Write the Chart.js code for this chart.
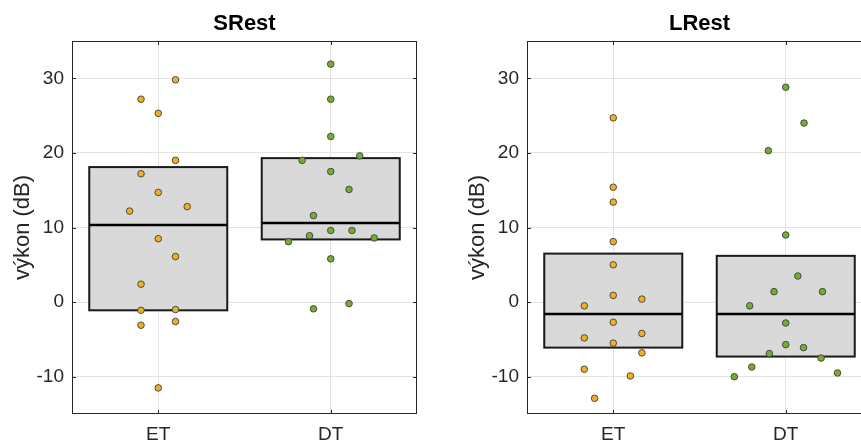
<!DOCTYPE html>
<html lang="cs">
<head>
  <meta charset="UTF-8">
  <title>SRest / LRest</title>
  <script src="https://cdn.jsdelivr.net/npm/chart.js"></script>
  <style>
    html, body {
      margin: 0;
      padding: 0;
      background: #fff;
      overflow: hidden;
      width: 861px;
      height: 443px;
    }
    .panel {
      position: absolute;
      top: 0;
      width: 430px;
      height: 443px;
    }
  </style>
</head>
<body>
  <div class="panel" style="left:0px"><canvas id="sRest" width="430" height="443"></canvas></div>
  <div class="panel" style="left:455px"><canvas id="lRest" width="430" height="443"></canvas></div>

  <script>
    const categories = ["ET", "DT"];
    const yTicks = [-10, 0, 10, 20, 30];

    // SRest - ET
    const sEtVals   = [29.8, 27.2, 25.3, 19.0, 17.2, 14.7, 12.2, 12.8, 8.5, 6.1, 2.4, -1.1, -1.0, -2.6, -3.1, -11.5];
    const sEtJitter = [0.10, -0.10, 0, 0.10, -0.10, 0, -0.166, 0.168, 0, 0.10, -0.10, -0.10, 0.10, 0.10, -0.10, 0];
    // SRest - DT
    const sDtVals   = [31.9, 27.2, 22.2, 19.6, 19.0, 17.5, 15.1, 11.6, 8.9, 9.6, 9.6, 8.6, 8.1, 5.8, -0.2, -0.9];
    const sDtJitter = [0, 0, 0, 0.168, -0.166, 0, 0.106, -0.10, -0.123, 0, 0.123, 0.252, -0.245, 0, 0.106, -0.10];
    // LRest - ET
    const lEtVals   = [24.7, 15.4, 13.4, 8.1, 5.0, 0.9, 0.4, -0.5, -2.7, -4.2, -4.8, -5.5, -6.8, -9.0, -9.9, -12.9];
    const lEtJitter = [0, 0, 0, 0, 0, 0, 0.166, -0.168, 0, 0.166, -0.168, 0, 0.166, -0.168, 0.099, -0.108];
    // LRest - DT
    const lDtVals   = [28.8, 24.0, 20.3, 9.0, 3.5, 1.4, 1.4, -0.5, -2.8, -5.7, -6.1, -6.9, -7.5, -8.7, -9.5, -10.0];
    const lDtJitter = [0, 0.106, -0.101, 0, 0.07, -0.068, 0.213, -0.209, 0, 0, 0.103, -0.095, 0.205, -0.197, 0.3, -0.298];

    // box: [q1, median, q3] per category
    const sBoxes = [[-1.1, 10.35, 18.1], [8.4, 10.6, 19.3]];
    const lBoxes = [[-6.1, -1.6, 6.5], [-7.3, -1.6, 6.2]];

    const ET_COLOR = "#EDB120";
    const DT_COLOR = "#77AC30";
    const FONT = "Arial, 'Liberation Sans', Helvetica, sans-serif";

    function points(vals, jitter, pos) {
      return vals.map((v, i) => ({ x: pos + jitter[i], y: v }));
    }

    const boxPlugin = {
      id: "boxes",
      beforeDatasetsDraw(chart, args, opts) {
        const { ctx, scales: { x, y } } = chart;
        opts.boxes.forEach((b, i) => {
          const pos = i + 1;
          const x0 = x.getPixelForValue(pos - 0.4);
          const x1 = x.getPixelForValue(pos + 0.4);
          const yq1 = y.getPixelForValue(b[0]);
          const ymed = y.getPixelForValue(b[1]);
          const yq3 = y.getPixelForValue(b[2]);
          ctx.save();
          ctx.fillStyle = "#d9d9d9";
          ctx.fillRect(x0, yq3, x1 - x0, yq1 - yq3);
          ctx.strokeStyle = "#1a1a1a";
          ctx.lineWidth = 2;
          ctx.strokeRect(x0, yq3, x1 - x0, yq1 - yq3);
          ctx.lineWidth = 2.5;
          ctx.strokeStyle = "#000";
          ctx.beginPath();
          ctx.moveTo(x0, ymed);
          ctx.lineTo(x1, ymed);
          ctx.stroke();
          ctx.restore();
        });
      }
    };

    // axes frame + inward ticks like the original
    const framePlugin = {
      id: "frame",
      afterDraw(chart) {
        const { ctx, chartArea: a, scales: { x, y } } = chart;
        ctx.save();
        ctx.strokeStyle = "#262626";
        ctx.lineWidth = 1;
        ctx.strokeRect(a.left + 0.5, a.top + 0.5, a.right - a.left - 1, a.bottom - a.top - 1);
        ctx.beginPath();
        yTicks.forEach(t => {
          const py = Math.round(y.getPixelForValue(t)) + 0.5;
          ctx.moveTo(a.left, py); ctx.lineTo(a.left + 4, py);
          ctx.moveTo(a.right, py); ctx.lineTo(a.right - 4, py);
        });
        categories.forEach((c, i) => {
          const px = Math.round(x.getPixelForValue(i + 1)) + 0.5;
          ctx.moveTo(px, a.bottom); ctx.lineTo(px, a.bottom - 4);
          ctx.moveTo(px, a.top); ctx.lineTo(px, a.top + 4);
        });
        ctx.stroke();
        ctx.restore();
      }
    };

    function makeChart(id, title, etVals, etJit, dtVals, dtJit, boxes) {
      const dsStyle = {
        pointRadius: 3.3,
        pointHoverRadius: 3.3,
        borderWidth: 0.9,
        borderColor: "#404040"
      };
      return new Chart(document.getElementById(id), {
        type: "scatter",
        data: {
          datasets: [
            Object.assign({ label: "ET", data: points(etVals, etJit, 1), backgroundColor: ET_COLOR }, dsStyle),
            Object.assign({ label: "DT", data: points(dtVals, dtJit, 2), backgroundColor: DT_COLOR }, dsStyle)
          ]
        },
        options: {
          responsive: false,
          animation: false,
          devicePixelRatio: 1,
          layout: { padding: { left: 0, right: 13, top: 0, bottom: 0 } },
          plugins: {
            legend: { display: false },
            tooltip: { enabled: false },
            title: {
              display: true,
              text: title,
              fullSize: false,
              color: "#000",
              font: { family: FONT, size: 22, weight: "bold", lineHeight: 1.2 },
              padding: { top: 10.8, bottom: 3.8 }
            },
            boxes: { boxes: boxes }
          },
          scales: {
            x: {
              type: "linear",
              min: 0.5,
              max: 2.5,
              afterBuildTicks: s => { s.ticks = categories.map((c, i) => ({ value: i + 1 })); },
              afterFit: s => { s.height = 29; },
              ticks: {
                padding: 9,
                color: "#262626",
                font: { family: FONT, size: 19 },
                callback: v => categories[v - 1]
              },
              grid: { color: "#e3e3e3", drawTicks: false },
              border: { display: false }
            },
            y: {
              min: -15,
              max: 35,
              afterBuildTicks: s => { s.ticks = yTicks.map(v => ({ value: v })); },
              afterFit: s => { s.width = 72; },
              ticks: {
                padding: 8,
                color: "#262626",
                font: { family: FONT, size: 19 }
              },
              grid: { color: "#e3e3e3", drawTicks: false },
              border: { display: false },
              title: {
                display: true,
                text: "výkon (dB)",
                color: "#262626",
                font: { family: FONT, size: 22, lineHeight: 1.2 },
                padding: { top: 10, bottom: 0 }
              }
            }
          }
        },
        plugins: [boxPlugin, framePlugin]
      });
    }

    makeChart("sRest", "SRest", sEtVals, sEtJitter, sDtVals, sDtJitter, sBoxes);
    makeChart("lRest", "LRest", lEtVals, lEtJitter, lDtVals, lDtJitter, lBoxes);
  </script>
</body>
</html>
